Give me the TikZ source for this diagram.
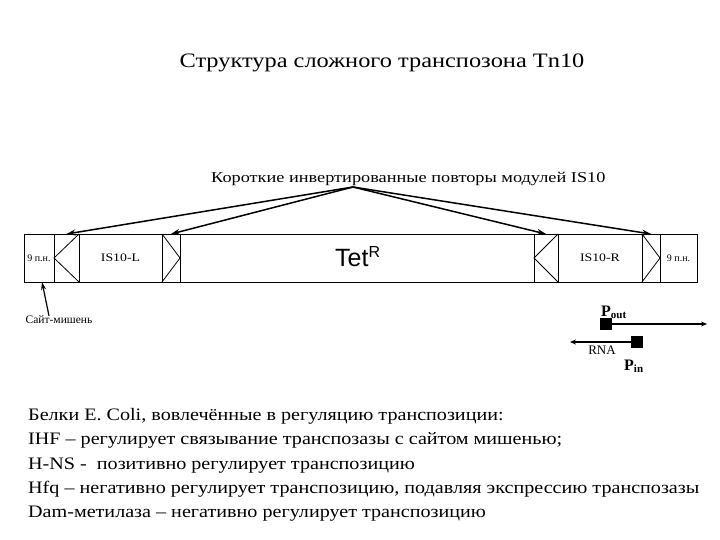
\documentclass[tikz,border=0pt]{standalone}
\usepackage{fontspec}
\setmainfont{Liberation Serif}
\newfontfamily\tetfont{Liberation Sans}
\usetikzlibrary{arrows.meta,positioning}

% horizontal stretch of a text
\newcommand{\hstretch}[2]{\scalebox{#1}[1]{#2}}

\begin{document}
\begin{tikzpicture}[
		x=1pt, y=-1pt,
		seg/.style={draw, line width=0.8pt, minimum height=48pt, inner sep=0pt, outer sep=0pt, font=\fontsize{10}{12}\selectfont},
		ir/.style={seg},
		arr/.style={line width=1.5pt, -{Stealth[length=9pt, width=6pt]}},
		parr/.style={line width=1.8pt, -{Stealth[length=6pt, width=5pt]}},
		prom/.style={fill=black, minimum size=12pt, inner sep=0pt},
		txt/.style={inner sep=0pt, anchor=base west, font=\fontsize{17.5}{20}\selectfont}
		]
		
		% Parameters
		\def\midy{258}
		
		\useasboundingbox (0,0) rectangle (720,540);
		
		% Title
		\node[inner sep=0pt, anchor=base, font=\fontsize{20.5}{24}\selectfont] (title) at (382,68) {\hstretch{1.19}{Структура сложного транспозона Tn10}};
		
		% Draw the transposon segments
		\node[seg, minimum width=30pt] (lbp) at (39,\midy) {9 п.н.};
		\node[ir, minimum width=25pt, right=0pt of lbp] (irA) {};
		\node[seg, minimum width=83pt, right=0pt of irA] (isL) {\hstretch{1.2}{\fontsize{11.5}{13}\selectfont IS10-L}};
		\node[ir, minimum width=18pt, right=0pt of isL] (irB) {};
		\node[seg, minimum width=354pt, right=0pt of irB] (tet) {};
		\node[ir, minimum width=24pt, right=0pt of tet] (irC) {};
		\node[seg, minimum width=84pt, right=0pt of irC] (isR) {\hstretch{1.2}{\fontsize{11.5}{13}\selectfont IS10-R}};
		\node[ir, minimum width=18pt, right=0pt of isR] (irD) {};
		\node[seg, minimum width=37pt, right=0pt of irD] (rbp) {9 п.н.};
		
		\node[inner sep=0pt, anchor=base west, font=\tetfont\fontsize{25}{28}\selectfont] (tetlab) at (335,266.5) {Tet\raisebox{9pt}{\fontsize{16}{18}\selectfont R}};
		
		% Draw the inverted repeats
		\draw[line width=0.8pt] (irA.north east) -- (irA.west) -- (irA.south east);
		\draw[line width=0.8pt] (irB.north west) -- (irB.east) -- (irB.south west);
		\draw[line width=0.8pt] (irC.north east) -- (irC.west) -- (irC.south east);
		\draw[line width=0.8pt] (irD.north west) -- (irD.east) -- (irD.south west);
		
		% Label of the repeats with arrows
		\node[inner sep=0pt, anchor=base west, font=\fontsize{15}{18}\selectfont] (irlab) at (211,183) {\hstretch{1.22}{Короткие инвертированные повторы модулей IS10}};
		\coordinate (apex) at (353,187);
		\foreach \n in {irA,irB,irC,irD}
			\draw[arr] (apex) -- (\n.north);
		
		% Target site
		\node[inner sep=0pt, font=\fontsize{11.5}{14}\selectfont] (site) at (59,320) {Сайт-мишень};
		\draw[line width=1.2pt, -{Stealth[length=8pt, width=5pt]}] ([xshift=-10pt]site.north) -- ([xshift=3pt]lbp.south);
		
		% Promoters
		\node[prom] (pout) at (606,324) {};
		\node[prom] (pin) at (637,342) {};
		\coordinate (outend) at (707,324);
		\coordinate (inend) at (570,342);
		\draw[parr] (pout.east) -- (outend);
		\draw[parr] (pin.west) -- (inend);
		\node[inner sep=0pt, anchor=base west, font=\bfseries\fontsize{16}{18}\selectfont] (poutlab) at (601,316) {P\raisebox{-2pt}{\fontsize{11}{12}\selectfont out}};
		\node[inner sep=0pt, anchor=base west, font=\bfseries\fontsize{16}{18}\selectfont] (pinlab) at (624,370) {P\raisebox{-2pt}{\fontsize{11}{12}\selectfont in}};
		\node[inner sep=0pt, font=\fontsize{13}{15}\selectfont] (rna) at (602,350) {RNA};
		
		% Proteins
		\node[txt] (l1) at (28,420) {\hstretch{1.15}{Белки E. Coli, вовлечённые в регуляцию транспозиции:}};
		\node[txt] (l2) at (28,444.5) {\hstretch{1.15}{IHF – регулирует связывание транспозазы с сайтом мишенью;}};
		\node[txt] (l3) at (28,469) {\hstretch{1.15}{H-NS -\ \ позитивно регулирует транспозицию}};
		\node[txt] (l4) at (28,493) {\hstretch{1.15}{Hfq – негативно регулирует транспозицию, подавляя экспрессию транспозазы}};
		\node[txt] (l5) at (28,517) {\hstretch{1.15}{Dam-метилаза – негативно регулирует транспозицию}};
		
	\end{tikzpicture}
\end{document}
